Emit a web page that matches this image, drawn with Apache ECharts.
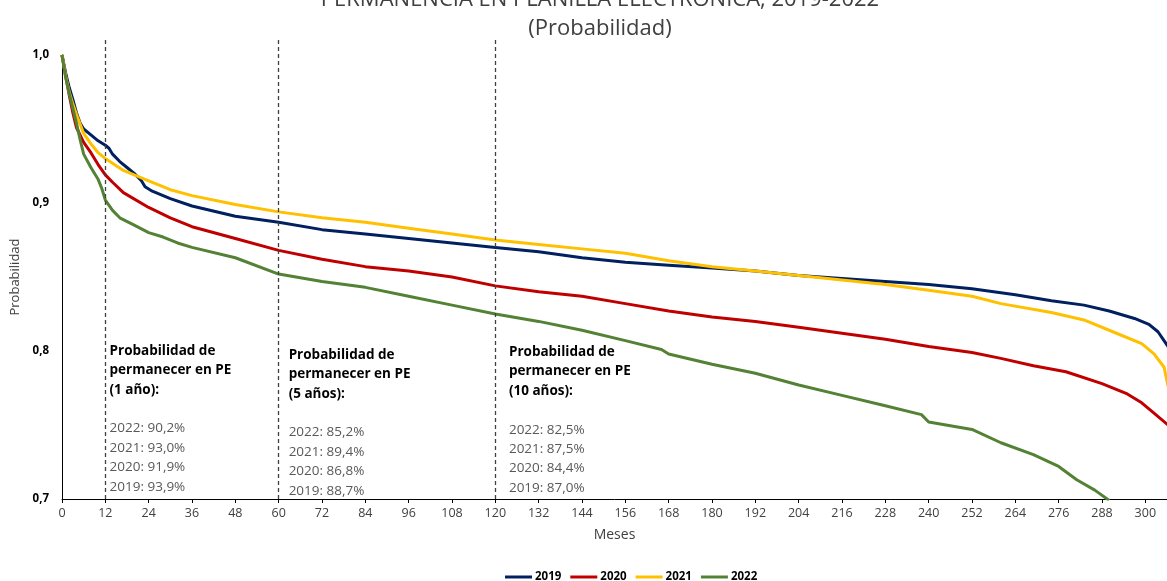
<!DOCTYPE html>
<html>
<head>
<meta charset="utf-8">
<script src="https://cdn.jsdelivr.net/npm/echarts@6/dist/echarts.min.js"></script>
<style>
html,body{margin:0;padding:0;background:#fff;}
#chart{width:1167px;height:581px;}
</style>
</head>
<body>
<div id="chart"></div>
<script>
// ---- data ----
const seriesNames = ['2019', '2020', '2021', '2022'];
const s2019 = [[0,1.000],[1,0.988],[2,0.978],[3,0.970],[4,0.961],[5,0.954],[6,0.950],[8,0.946],[10,0.942],[12,0.939],[13,0.937],[14,0.933],[16,0.928],[18,0.924],[20,0.920],[22,0.915],[23,0.911],[25,0.908],[30,0.903],[36,0.898],[48,0.891],[60,0.887],[72,0.882],[84,0.879],[96,0.876],[108,0.873],[120,0.870],[132,0.867],[144,0.863],[156,0.860],[168,0.858],[180,0.856],[192,0.854],[204,0.851],[216,0.849],[228,0.847],[240,0.845],[252,0.842],[264,0.838],[274,0.834],[283,0.831],[290,0.827],[297,0.822],[301,0.818],[303.5,0.813],[306.3,0.803]];
const s2020 = [[0,1.000],[1,0.986],[2,0.973],[3,0.961],[4,0.951],[6,0.941],[8,0.934],[10,0.926],[12,0.919],[14,0.914],[17,0.907],[24,0.897],[30,0.890],[36,0.884],[48,0.876],[60,0.868],[72,0.862],[84,0.857],[96,0.854],[108,0.850],[120,0.844],[132,0.840],[144,0.837],[156,0.832],[168,0.827],[180,0.823],[192,0.820],[204,0.816],[216,0.812],[228,0.808],[240,0.803],[252,0.799],[260,0.795],[269,0.790],[278,0.786],[288,0.778],[295,0.771],[299,0.765],[302.4,0.758],[306.3,0.750]];
const s2021 = [[0,1.000],[1,0.986],[2,0.975],[3,0.967],[4,0.960],[6,0.947],[8,0.940],[10,0.934],[12,0.930],[17,0.922],[24,0.915],[30,0.909],[36,0.905],[48,0.899],[60,0.894],[72,0.890],[84,0.887],[96,0.883],[108,0.879],[120,0.875],[132,0.872],[144,0.869],[156,0.866],[168,0.861],[180,0.857],[192,0.854],[204,0.851],[216,0.848],[228,0.845],[240,0.841],[252,0.837],[260,0.832],[274,0.826],[283,0.821],[292,0.812],[299,0.805],[302.4,0.798],[305.2,0.789],[306.3,0.776]];
const s2022 = [[0,1.000],[1,0.985],[2,0.974],[3,0.964],[4,0.954],[5,0.943],[6,0.933],[8,0.924],[10,0.916],[11,0.910],[12,0.902],[14,0.895],[16,0.890],[20,0.885],[24,0.880],[28,0.877],[32,0.873],[36,0.870],[48,0.863],[60,0.852],[72,0.847],[84,0.843],[96,0.837],[108,0.831],[120,0.825],[132,0.820],[144,0.814],[156,0.807],[166,0.801],[168,0.798],[180,0.791],[192,0.785],[204,0.777],[216,0.770],[228,0.763],[238,0.757],[240,0.752],[252,0.747],[260,0.738],[269,0.730],[276,0.722],[281,0.713],[286,0.706],[290,0.699]];
const refMonths = [12, 60, 120];
const horizonLabels = ['1 año', '5 años', '10 años'];
const p2022 = ['90,2', '85,2', '82,5'];
const p2021 = ['93,0', '89,4', '87,5'];
const p2020 = ['91,9', '86,8', '84,4'];
const p2019 = ['93,9', '88,7', '87,0'];
const yTicks = [0.7, 0.8, 0.9, 1.0];

// ---- styles ----
const colors = ['#002060', '#C00000', '#FFC000', '#548235'];
const FONT = '"Open Sans", "Noto Sans", sans-serif';
const allData = [s2019, s2020, s2021, s2022];

// annotation anchors (offsets relative to the reference month, in data space)
const annoOffsets = [[1.3, 0.8062], [2.9, 0.8035], [3.9, 0.8055]];

const chart = echarts.init(document.getElementById('chart'));

const annoData = refMonths.map((m, i) => ({
  coord: [m + annoOffsets[i][0], annoOffsets[i][1]],
  label: {
    formatter: '{h|Probabilidad de}\n{h|permanecer en PE}\n{h|(' + horizonLabels[i] + '):}\n{b| }\n' +
      '{v|2022: ' + p2022[i] + '%}\n{v|2021: ' + p2021[i] + '%}\n{v|2020: ' + p2020[i] + '%}\n{v|2019: ' + p2019[i] + '%}'
  }
}));

const option = {
  animation: false,
  title: {
    text: 'PERMANENCIA EN PLANILLA ELECTRÓNICA, 2019-2022\n(Probabilidad)',
    left: 595, top: -20, textAlign: 'center',
    textStyle: { fontFamily: FONT, fontSize: 22, fontWeight: 'normal', color: '#404040', lineHeight: 29 }
  },
  legend: {
    data: seriesNames, left: 500, top: 566, icon: 'rect', itemWidth: 27, itemHeight: 3, itemGap: 9,
    textStyle: { fontFamily: FONT, fontSize: 11.5, fontWeight: 'bold', color: '#000', padding: [0, 0, 0, -2] }
  },
  grid: [
    { left: 62, right: 0, top: 55, bottom: 82 },
    { left: 62, right: 0, top: 40, bottom: 82 }
  ],
  xAxis: [{
    type: 'value', gridIndex: 0, min: 0, max: 306, interval: 12,
    axisLine: { lineStyle: { color: '#000', width: 1 } },
    axisTick: { show: true, length: 4, lineStyle: { color: '#000' } },
    axisLabel: { fontFamily: FONT, fontSize: 12.5, color: '#404040', margin: 8, showMaxLabel: false },
    splitLine: { show: false },
    name: 'Meses', nameLocation: 'middle', nameGap: 29,
    nameTextStyle: { fontFamily: FONT, fontSize: 14, color: '#404040' }
  }, {
    type: 'value', gridIndex: 1, min: 0, max: 306, show: false
  }],
  yAxis: [{
    type: 'value', gridIndex: 0, min: yTicks[0], max: yTicks[yTicks.length - 1], interval: 0.1,
    axisLine: { show: true, lineStyle: { color: '#000', width: 1 } },
    axisTick: { show: false },
    axisLabel: { fontFamily: FONT, fontSize: 11.5, fontWeight: 'bold', color: '#000', margin: 13,
      formatter: v => v.toFixed(1).replace('.', ',') },
    splitLine: { show: false },
    name: 'Probabilidad', nameLocation: 'middle', nameGap: 37,
    nameTextStyle: { fontFamily: FONT, fontSize: 13, color: '#404040' }
  }, {
    type: 'value', gridIndex: 1, min: 0, max: 1, show: false
  }],
  series: [
    {
      type: 'line', xAxisIndex: 1, yAxisIndex: 1, data: [], silent: true, z: 1,
      markLine: {
        silent: true, symbol: ['none', 'none'], label: { show: false },
        lineStyle: { color: '#404040', type: [4, 3], width: 1.3 },
        data: refMonths.map(m => ({ xAxis: m }))
      }
    },
    ...seriesNames.map((n, i) => ({
      name: n, type: 'line', xAxisIndex: 0, yAxisIndex: 0, data: allData[i],
      showSymbol: false, symbol: 'none', z: 3,
      lineStyle: { color: colors[i], width: 3 }, itemStyle: { color: colors[i] }
    })),
    {
      type: 'line', xAxisIndex: 0, yAxisIndex: 0, data: [], silent: true, z: 5,
      markPoint: {
        silent: true, symbol: 'circle', symbolSize: 1, itemStyle: { color: 'rgba(0,0,0,0)' },
        label: {
          show: true, position: [0, 0], align: 'left', verticalAlign: 'top',
          rich: {
            h: { fontFamily: FONT, fontSize: 13.5, fontWeight: 'bold', color: '#000', lineHeight: 19.4 },
            b: { fontFamily: FONT, fontSize: 13, lineHeight: 19.4 },
            v: { fontFamily: FONT, fontSize: 13.5, color: '#595959', lineHeight: 19.4 }
          }
        },
        data: annoData
      }
    }
  ]
};
chart.setOption(option);
</script>
</body>
</html>
